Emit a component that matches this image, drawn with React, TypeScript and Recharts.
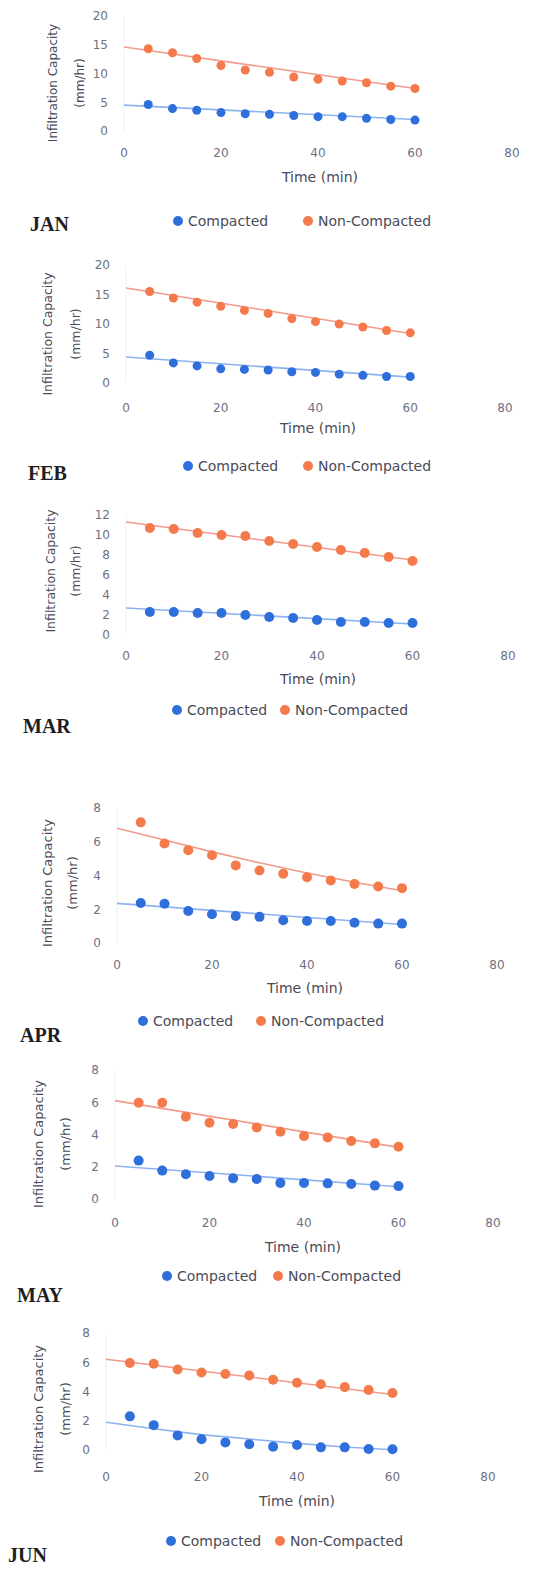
import React from "react";
import { ScatterChart, Scatter, XAxis, YAxis, Legend } from "recharts";

// sampling times (min)
const TIME = [5, 10, 15, 20, 25, 30, 35, 40, 45, 50, 55, 60];
const X_TICKS = [0, 20, 40, 60, 80];

// infiltration capacity (mm/hr)
const JAN_COMPACTED = [4.6, 3.9, 3.6, 3.2, 3.0, 2.9, 2.7, 2.5, 2.5, 2.2, 2.0, 1.9];
const JAN_NON = [14.3, 13.6, 12.6, 11.4, 10.6, 10.2, 9.4, 9.0, 8.7, 8.4, 7.8, 7.4];
const FEB_COMPACTED = [4.7, 3.4, 2.9, 2.4, 2.3, 2.2, 1.9, 1.8, 1.5, 1.3, 1.1, 1.1];
const FEB_NON = [15.5, 14.4, 13.7, 13.0, 12.3, 11.8, 10.9, 10.4, 10.0, 9.5, 8.9, 8.5];
const MAR_COMPACTED = [2.3, 2.3, 2.2, 2.2, 2.0, 1.8, 1.7, 1.5, 1.3, 1.3, 1.2, 1.2];
const MAR_NON = [10.7, 10.6, 10.2, 10.0, 9.9, 9.4, 9.1, 8.8, 8.5, 8.2, 7.8, 7.4];
const APR_COMPACTED = [2.37, 2.33, 1.9, 1.7, 1.6, 1.55, 1.35, 1.3, 1.3, 1.2, 1.15, 1.15];
const APR_NON = [7.15, 5.9, 5.5, 5.2, 4.6, 4.3, 4.1, 3.9, 3.7, 3.5, 3.35, 3.25];
const MAY_COMPACTED = [2.38, 1.76, 1.53, 1.43, 1.28, 1.24, 1.0, 1.0, 0.97, 0.93, 0.83, 0.8];
const MAY_NON = [5.97, 5.97, 5.1, 4.73, 4.65, 4.44, 4.17, 3.9, 3.82, 3.6, 3.45, 3.24];
const JUN_COMPACTED = [2.3, 1.7, 1.0, 0.73, 0.52, 0.39, 0.23, 0.34, 0.18, 0.18, 0.07, 0.05];
const JUN_NON = [5.95, 5.9, 5.5, 5.3, 5.2, 5.1, 4.8, 4.6, 4.5, 4.3, 4.1, 3.9];

// trendlines, read at the times below
const TREND_ENDS = [0, 60];
const TREND_STEPS = [0, 10, 20, 30, 40, 50, 60];
const JAN_TREND_C = [4.5, 2.0];
const JAN_TREND_N = [14.6, 7.4];
const FEB_TREND_C = [4.4, 1.0];
const FEB_TREND_N = [16.1, 8.4];
const MAR_TREND_C = [2.7, 1.1];
const MAR_TREND_N = [11.3, 7.5];
const APR_TREND_C = [2.35, 1.1];
const APR_TREND_N = [6.8, 6.1, 5.4, 4.75, 4.15, 3.6, 3.1];
const MAY_TREND_C = [2.05, 0.76];
const MAY_TREND_N = [6.1, 3.2];
const JUN_TREND_C = [1.9, 1.45, 1.05, 0.75, 0.45, 0.2, 0.02];
const JUN_TREND_N = [6.2, 3.8];

const SERIES = ["Compacted", "Non-Compacted"];

const BLUE = "#2f6fdc";
const ORANGE = "#f47a4c";
const BLUE_TREND = "#8db2ef";
const ORANGE_TREND = "#f29a8c";
const FONT = "'DejaVu Sans', sans-serif";

const toPoints = (times: number[], values: number[]) =>
  times.map((t, i) => ({ t, v: values[i] }));

const panels = [
  {
    month: "JAN", yMax: 20, yTicks: [0, 5, 10, 15, 20],
    c: JAN_COMPACTED, n: JAN_NON, tc: [TREND_ENDS, JAN_TREND_C], tn: [TREND_ENDS, JAN_TREND_N],
    top: 16, bottom: 131, x0: 124, x80: 512, tickGap: 21, titleX: 320, titleY: 177,
    yt1: 53, yt2: 80, ytCy: 83, ytFs: 12, legendY: 221, legC: 178, legN: 308,
    monthX: 30, monthY: 224, r: 4.5,
  },
  {
    month: "FEB", yMax: 20, yTicks: [0, 5, 10, 15, 20],
    c: FEB_COMPACTED, n: FEB_NON, tc: [TREND_ENDS, FEB_TREND_C], tn: [TREND_ENDS, FEB_TREND_N],
    top: 265, bottom: 383, x0: 126, x80: 505, tickGap: 24, titleX: 318, titleY: 428,
    yt1: 47, yt2: 75, ytCy: 334, ytFs: 12.5, legendY: 466, legC: 188, legN: 308,
    monthX: 28, monthY: 473, r: 4.5,
  },
  {
    month: "MAR", yMax: 12, yTicks: [0, 2, 4, 6, 8, 10, 12],
    c: MAR_COMPACTED, n: MAR_NON, tc: [TREND_ENDS, MAR_TREND_C], tn: [TREND_ENDS, MAR_TREND_N],
    top: 515, bottom: 635, x0: 126, x80: 508, tickGap: 20, titleX: 318, titleY: 679,
    yt1: 50, yt2: 75, ytCy: 571, ytFs: 12.5, legendY: 710, legC: 177, legN: 285,
    monthX: 23, monthY: 726, r: 5,
  },
  {
    month: "APR", yMax: 8, yTicks: [0, 2, 4, 6, 8],
    c: APR_COMPACTED, n: APR_NON, tc: [TREND_ENDS, APR_TREND_C], tn: [TREND_STEPS, APR_TREND_N],
    top: 808, bottom: 943, x0: 117, x80: 497, tickGap: 21, titleX: 305, titleY: 988,
    yt1: 47, yt2: 72, ytCy: 883, ytFs: 13, legendY: 1021, legC: 143, legN: 261,
    monthX: 20, monthY: 1035, r: 5,
  },
  {
    month: "MAY", yMax: 8, yTicks: [0, 2, 4, 6, 8],
    c: MAY_COMPACTED, n: MAY_NON, tc: [TREND_ENDS, MAY_TREND_C], tn: [TREND_ENDS, MAY_TREND_N],
    top: 1070, bottom: 1199, x0: 115, x80: 493, tickGap: 23, titleX: 303, titleY: 1247,
    yt1: 38, yt2: 65, ytCy: 1144, ytFs: 13, legendY: 1276, legC: 167, legN: 278,
    monthX: 17, monthY: 1295, r: 5,
  },
  {
    month: "JUN", yMax: 8, yTicks: [0, 2, 4, 6, 8],
    c: JUN_COMPACTED, n: JUN_NON, tc: [TREND_STEPS, JUN_TREND_C], tn: [TREND_ENDS, JUN_TREND_N],
    top: 1333, bottom: 1450, x0: 106, x80: 488, tickGap: 26, titleX: 297, titleY: 1501,
    yt1: 38, yt2: 65, ytCy: 1409, ytFs: 13, legendY: 1541, legC: 171, legN: 280,
    monthX: 8, monthY: 1555, r: 5,
  },
];

function XTitle({ p, T }: any) {
  return (
    <text x={p.titleX} y={p.titleY - T} textAnchor="middle" dominantBaseline="central"
      fontFamily={FONT} fontSize={14} fill="#4a4a58">
      Time (min)
    </text>
  );
}

function YTitle({ p, T }: any) {
  const cy = p.ytCy - T;
  const common = { textAnchor: "middle" as const, dominantBaseline: "central" as const,
    fontFamily: FONT, fontSize: p.ytFs, fill: "#4a4a58" };
  return (
    <g>
      <text {...common} x={p.yt1} y={cy} transform={`rotate(-90 ${p.yt1} ${cy})`}>
        Infiltration Capacity
      </text>
      <text {...common} x={p.yt2} y={cy} transform={`rotate(-90 ${p.yt2} ${cy})`}>
        (mm/hr)
      </text>
    </g>
  );
}

function Panel({ p }: any) {
  const T = p.top - 12;
  const H = p.legendY - T + 16;
  const xAxisH = H - (p.bottom - T);
  const dot = (color: string) => (s: any) => <circle cx={s.cx} cy={s.cy} r={p.r} fill={color} />;

  const legendContent = (props: any) => (
    <div style={{ position: "relative", width: 560, height: 20 }}>
      {(props.payload || []).map((item: any, i: number) => (
        <div key={item.value} style={{ position: "absolute", left: (i === 0 ? p.legC : p.legN) - 5,
          top: 0, height: 20, display: "flex", alignItems: "center",
          fontFamily: FONT, fontSize: 14, color: "#4a4a58", whiteSpace: "nowrap" }}>
          <span style={{ width: 10, height: 10, borderRadius: 5, background: item.color,
            marginRight: 5, display: "inline-block" }} />
          {item.value}
        </div>
      ))}
    </div>
  );

  return (
    <div style={{ position: "absolute", left: 0, top: T, width: 560, height: H }}>
      <ScatterChart width={560} height={H}
        margin={{ top: p.top - T, right: 560 - p.x80, bottom: 0, left: p.x0 - 60 }}>
        <XAxis type="number" dataKey="t" domain={[0, 80]} ticks={X_TICKS} height={xAxisH}
          interval={0} axisLine={false} tickLine={false} tickSize={0} tickMargin={p.tickGap - 4}
          tick={{ fontFamily: FONT, fontSize: 12, fill: "#6f6f82" }}
          label={<XTitle p={p} T={T} />} />
        <YAxis type="number" dataKey="v" domain={[0, p.yMax]} ticks={p.yTicks} width={60}
          interval={0} axisLine={{ stroke: "#f0f0f5" }} tickLine={false} tickSize={0} tickMargin={16}
          tick={{ fontFamily: FONT, fontSize: 12, fill: "#6f6f82" }}
          label={<YTitle p={p} T={T} />} />
        <Scatter data={toPoints(p.tc[0], p.tc[1])} line={{ stroke: BLUE_TREND, strokeWidth: 1.6 }}
          shape={() => <g />} legendType="none" isAnimationActive={false} />
        <Scatter data={toPoints(p.tn[0], p.tn[1])} line={{ stroke: ORANGE_TREND, strokeWidth: 1.6 }}
          shape={() => <g />} legendType="none" isAnimationActive={false} />
        <Scatter name={SERIES[0]} data={toPoints(TIME, p.c)} fill={BLUE}
          shape={dot(BLUE)} isAnimationActive={false} />
        <Scatter name={SERIES[1]} data={toPoints(TIME, p.n)} fill={ORANGE}
          shape={dot(ORANGE)} isAnimationActive={false} />
        <Legend layout="horizontal" verticalAlign="middle" align="center"
          wrapperStyle={{ top: p.legendY - T - 10, left: 0, width: 560 }}
          content={legendContent} />
      </ScatterChart>
      <div style={{ position: "absolute", left: p.monthX, top: p.monthY - T - 12,
        fontFamily: "'Liberation Serif', serif", fontWeight: "bold", fontSize: 20,
        color: "#1e1e24", lineHeight: "24px" }}>
        {p.month}
      </div>
    </div>
  );
}

export default function App() {
  return (
    <div style={{ position: "absolute", left: 0, top: 0, width: 560, height: 1576, background: "#fff" }}>
      {panels.map((p) => (
        <Panel key={p.month} p={p} />
      ))}
    </div>
  );
}
